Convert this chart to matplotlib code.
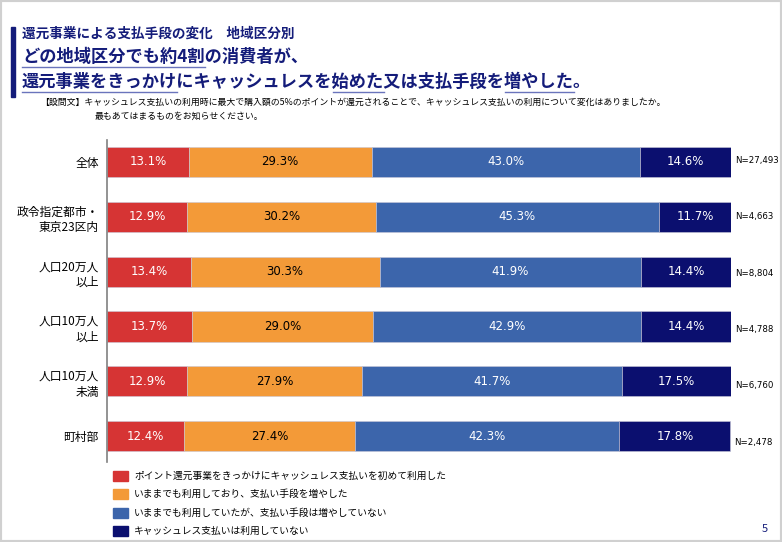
import numpy as np
import matplotlib.pyplot as plt
from matplotlib.patches import Rectangle
from matplotlib.lines import Line2D
from matplotlib.transforms import offset_copy

plt.rcParams['font.family'] = ['Noto Sans CJK JP', 'DejaVu Sans']

categories = ['全体', '政令指定都市・\n東京23区内', '人口20万人\n以上', '人口10万人\n以上', '人口10万人\n未満', '町村部']
n_labels = ['N=27,493', 'N=4,663', 'N=8,804', 'N=4,788', 'N=6,760', 'N=2,478']
first_use = [13.1, 12.9, 13.4, 13.7, 12.9, 12.4]
increased = [29.3, 30.2, 30.3, 29.0, 27.9, 27.4]
not_increased = [43.0, 45.3, 41.9, 42.9, 41.7, 42.3]
not_using = [14.6, 11.7, 14.4, 14.4, 17.5, 17.8]
series_names = ['ポイント還元事業をきっかけにキャッシュレス支払いを初めて利用した',
                'いままでも利用しており、支払い手段を増やした',
                'いままでも利用していたが、支払い手段は増やしていない',
                'キャッシュレス支払いは利用していない']

colors = ['#d63434', '#f39a38', '#3c65ab', '#0b0f6f']
text_colors = ['white', 'black', 'white', 'white']
navy = '#141c7a'

W, H = 782, 542
fig = plt.figure(figsize=(W / 100, H / 100), dpi=100)

def fx(px):
    return px / W

def fy(py):
    return 1 - py / H

# page border
fig.patches.append(Rectangle((0, 0), 1, 1, transform=fig.transFigure, fill=False,
                             edgecolor='#d0d0d0', linewidth=3))

ax = fig.add_axes([fx(107), fy(462), fx(731) - fx(107), fy(140) - fy(462)])

y = np.arange(len(categories))
data = [first_use, increased, not_increased, not_using]
left = np.zeros(len(categories))
for vals, c, tc in zip(data, colors, text_colors):
    vals = np.array(vals)
    ax.barh(y, vals, left=left, height=0.55, color=c, edgecolor='#c8c8d8', linewidth=0.4)
    for yi, l, v in zip(y, left, vals):
        ax.text(l + v / 2, yi, f'{v:.1f}%', ha='center', va='center', color=tc,
                fontsize=8.5, family='DejaVu Sans')
    left += vals

for yi, (tot, n) in enumerate(zip(left, n_labels)):
    tr = offset_copy(ax.transData, fig=fig, x=0, y=-(yi * 1.5 - 1.5), units='dots')
    ax.text(tot + 0.6, yi, n, ha='left', va='center', fontsize=6.2, family='DejaVu Sans',
            transform=tr)

ax.set_xlim(0, 100)
ax.set_ylim(5.47, -0.4)
ax.set_yticks(y)
ax.set_yticklabels(categories, fontsize=8.5, linespacing=1.3)
ax.tick_params(axis='y', length=0, pad=6)
ax.set_xticks([])
for s in ['top', 'right', 'bottom']:
    ax.spines[s].set_visible(False)
ax.spines['left'].set_color('#808080')
ax.spines['left'].set_linewidth(1.2)

# header bar and titles
fig.patches.append(Rectangle((fx(11), fy(97)), fx(4), fy(27) - fy(97), transform=fig.transFigure,
                             color=navy))
fig.text(fx(22), fy(34), '還元事業による支払手段の変化　地域区分別', fontsize=9.8, fontweight='bold',
         color=navy, va='center')

renderer = fig.canvas.get_renderer()
HS = 12.4

def headline(x, yy, text, underlined):
    fig.text(fx(x), fy(yy), text, fontsize=HS, fontweight='bold', color=navy, va='center')
    for seg in underlined:
        i = text.index(seg)
        widths = []
        for s in [text[:i], text[:i + len(seg)]]:
            if s == '':
                widths.append(0)
                continue
            t = fig.text(0, 0, s, fontsize=HS, fontweight='bold')
            widths.append(t.get_window_extent(renderer).width)
            t.remove()
        fig.lines.append(Line2D([fx(x + widths[0]), fx(x + widths[1])], [fy(yy + 10), fy(yy + 10)],
                                transform=fig.transFigure, color='#6a74bc', linewidth=1.0))

headline(22, 57, 'どの地域区分でも約4割の消費者が、', ['どの地域区分でも約4割'])
headline(22, 82, '還元事業をきっかけにキャッシュレスを始めた又は支払手段を増やした。',
         ['還元事業をきっかけ', '始めた', '増やした'])

fig.text(fx(40), fy(102), '【設問文】キャッシュレス支払いの利用時に最大で購入額の5%のポイントが還元されることで、キャッシュレス支払いの利用について変化はありましたか。',
         fontsize=6.4, va='center')
fig.text(fx(95), fy(116), '最もあてはまるものをお知らせください。', fontsize=6.4, va='center')

# legend
for i, (name, c) in enumerate(zip(series_names, colors)):
    yy = 476 + i * 18.3
    fig.patches.append(Rectangle((fx(113), fy(yy + 5)), fx(15), fy(yy - 5) - fy(yy + 5),
                                 transform=fig.transFigure, color=c))
    fig.text(fx(134), fy(yy), name, fontsize=7.0, va='center')

fig.text(fx(765), fy(529), '5', fontsize=8, color=navy, ha='center', va='center')

fig.savefig('out.png', dpi=100)
